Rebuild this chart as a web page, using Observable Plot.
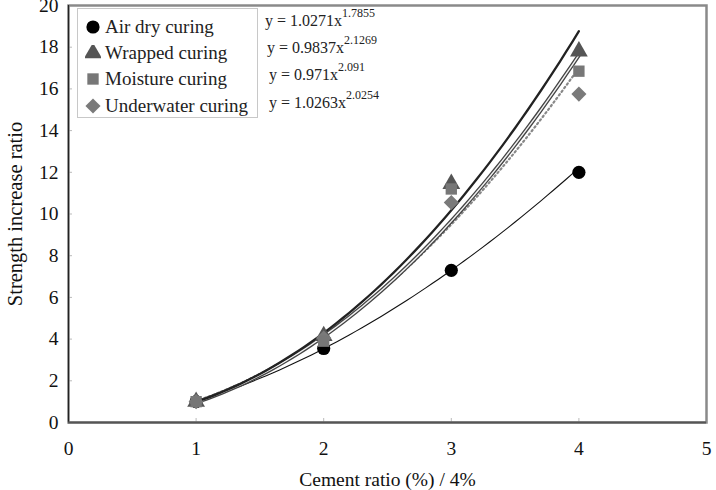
<!DOCTYPE html>
<html>
<head>
<meta charset="utf-8">
<script src="https://cdn.jsdelivr.net/npm/d3@7"></script>
<script src="https://cdn.jsdelivr.net/npm/@observablehq/plot@0.6"></script>
<style>
  body { margin: 0; background: #fff; }
  #wrap { position: relative; width: 716px; height: 490px; font-family: "Liberation Serif", "DejaVu Serif", serif; }
  #wrap svg text { font-family: "Liberation Serif", "DejaVu Serif", serif; }
  #legend { position: absolute; left: 77px; top: 8px; width: 181px; height: 110px; border: 1px solid #c8c8c8; background: #fff; box-sizing: border-box; }
  .row { position: absolute; left: 0; height: 26px; display: flex; align-items: center; font-family: "Liberation Serif", "DejaVu Serif", serif; font-size: 19px; color: #222; white-space: nowrap; }
  .row svg { width: 16px; height: 16px; margin-left: 7px; margin-right: 4px; }
  .eq { position: absolute; font-family: "Liberation Serif", "DejaVu Serif", serif; font-size: 16px; color: #222; white-space: nowrap; }
  .eq sup { font-size: 12px; position: relative; top: -3px; }
</style>
</head>
<body>
<div id="wrap"></div>
<script>
// Data
const seriesNames = ["Air dry curing", "Wrapped curing", "Moisture curing", "Underwater curing"];
const xValues = [1, 2, 3, 4];
const airDry = [1.0, 3.55, 7.3, 12.0];
const wrapped = [1.0, 4.15, 11.45, 17.8];
const moisture = [1.0, 3.9, 11.2, 16.85];
const underwater = [1.0, 4.05, 10.55, 15.75];
const fitA = [1.0271, 0.9837, 0.971, 1.0263];
const fitB = [1.7855, 2.1269, 2.091, 2.0254];
const eqLabels = ["y = 1.0271x", "y = 0.9837x", "y = 0.971x", "y = 1.0263x"];
const eqExps = ["1.7855", "2.1269", "2.091", "2.0254"];
const xTicks = [0, 1, 2, 3, 4, 5];
const yTicks = [0, 2, 4, 6, 8, 10, 12, 14, 16, 18, 20];

const allValues = [airDry, wrapped, moisture, underwater];
const points = [];
allValues.forEach((vals, s) => vals.forEach((v, i) => points.push({series: seriesNames[s], x: xValues[i], y: v})));

// trend curves from the chart's fitted equations y = a x^b
const curves = seriesNames.map((name, s) =>
  d3.range(1, 4.0001, 0.05).map(x => ({series: name, x, y: fitA[s] * Math.pow(x, fitB[s])})));

const symbols = ["circle", "triangle", "square", "diamond2"];
const fills = ["#000", "#555", "#777", "#7a7a7a"];
const sizes = [6.6, 6.6, 6.4, 6.8];
const sym = {
  circle: d3.symbolCircle, triangle: d3.symbolTriangle, square: d3.symbolSquare, diamond2: d3.symbolDiamond2
};
const drawOrder = [0, 1, 3, 2];

const serif = "'Liberation Serif', 'DejaVu Serif', serif";
const chart = Plot.plot({
  width: 716,
  height: 490,
  marginLeft: 68,
  marginRight: 10,
  marginTop: 5,
  marginBottom: 68,
  style: {fontFamily: serif, fontSize: "19px", color: "#111", background: "#fff"},
  x: {domain: [0, 5]},
  y: {domain: [0, 20]},
  marks: [
    Plot.axisX({ticks: xTicks, tickFormat: d3.format("d"), tickSize: -4, stroke: "#bbb", tickPadding: 23, fontSize: 19.5, fontFamily: serif, label: null}),
    Plot.axisX({ticks: [], label: "Cement ratio (%) / 4%", labelAnchor: "center", labelOffset: 63, labelArrow: "none", fontSize: 19.5, fontFamily: serif, tickSize: 0}),
    Plot.axisY({ticks: yTicks, tickFormat: d3.format("d"), tickSize: -4, stroke: "#bbb", tickPadding: 14, fontSize: 19.5, fontFamily: serif, label: null}),
    Plot.axisY({ticks: [], label: "Strength increase ratio", labelAnchor: "center", labelOffset: 61, labelArrow: "none", fontSize: 20.5, fontFamily: serif, tickSize: 0}),
    Plot.frame({stroke: "#8a8a8a", strokeWidth: 2.5}),
    Plot.ruleX([0], {stroke: "#222", strokeWidth: 1.2}),
    Plot.ruleY([0], {stroke: "#555", strokeWidth: 2}),
    // air dry thin black
    Plot.line(curves[0], {x: "x", y: "y", stroke: "#111", strokeWidth: 1.1}),
    // underwater dotted
    Plot.line(curves[3], {x: "x", y: "y", stroke: "#888", strokeWidth: 2.2, strokeDasharray: "1.5,3"}),
    // moisture double line
    Plot.line(curves[2], {x: "x", y: "y", stroke: "#444", strokeWidth: 4}),
    Plot.line(curves[2], {x: "x", y: "y", stroke: "#f2f2f2", strokeWidth: 1.4}),
    // wrapped thick
    Plot.line(curves[1], {x: "x", y: "y", stroke: "#222", strokeWidth: 2.3}),
    ...drawOrder.map(s =>
      Plot.dot(points.filter(d => d.series === seriesNames[s]), {x: "x", y: "y", symbol: () => sym[symbols[s]], r: sizes[s], fill: fills[s], stroke: "none"}))
  ]
});

const wrap = document.getElementById("wrap");
wrap.appendChild(chart);

// legend overlay
const legend = document.createElement("div");
legend.id = "legend";
const rowTops = [5, 31, 57, 84];
seriesNames.forEach((name, s) => {
  const row = document.createElement("div");
  row.className = "row";
  row.style.top = rowTops[s] + "px";
  const svg = d3.create("svg").attr("viewBox", "-8 -8 16 16");
  svg.append("path").attr("d", d3.symbol(sym[symbols[s]], Math.PI * sizes[s] * sizes[s])()).attr("fill", fills[s]);
  row.appendChild(svg.node());
  const t = document.createElement("span");
  t.textContent = name;
  row.appendChild(t);
  legend.appendChild(row);
});
wrap.appendChild(legend);

const eqTops = [9, 36, 63, 91];
const eqLefts = [265, 267, 269, 269];
eqLabels.forEach((lab, s) => {
  const e = document.createElement("div");
  e.className = "eq";
  e.style.left = eqLefts[s] + "px";
  e.style.top = eqTops[s] + "px";
  e.innerHTML = lab + "<sup>" + eqExps[s] + "</sup>";
  wrap.appendChild(e);
});
</script>
</body>
</html>
